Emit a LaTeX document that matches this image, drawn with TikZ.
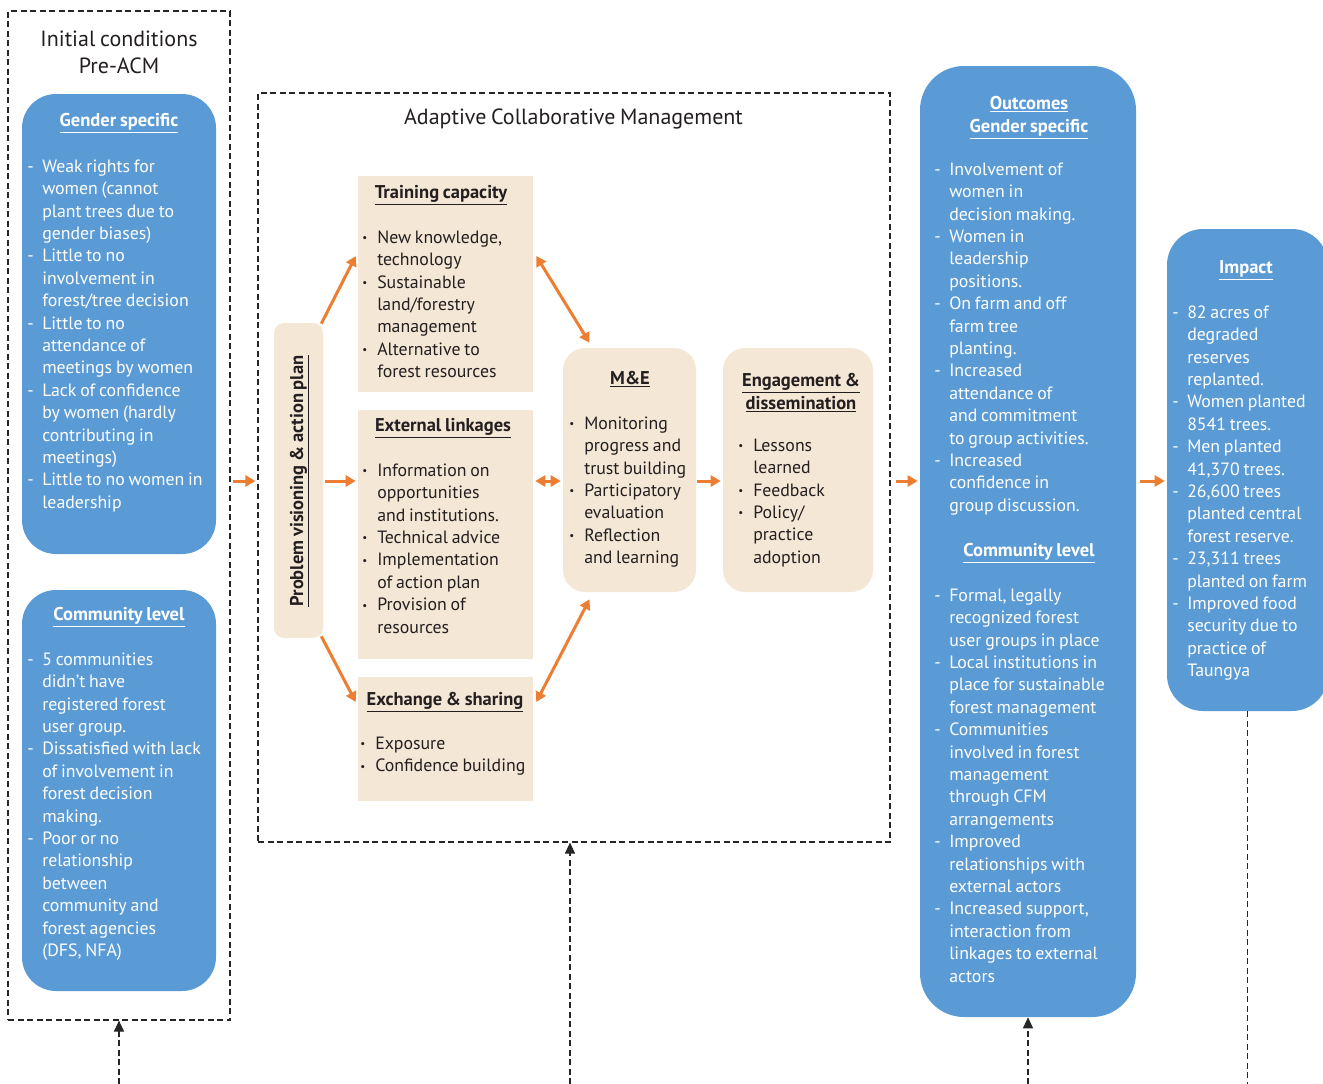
\documentclass[tikz,border=0pt]{standalone}
\usepackage{fontspec}
\setmainfont[WordSpace=0.8]{PT Sans}
\usetikzlibrary{arrows.meta,calc}

\definecolor{acmblue}{HTML}{5B9BD5}
\definecolor{acmsand}{HTML}{F5E7D6}
\definecolor{acmorange}{HTML}{ED7D31}
\definecolor{acmink}{HTML}{231F20}

\newcommand{\acmbody}{\fontsize{17.8}{22.4}\selectfont}
\newcommand{\acmhead}{\fontsize{18.5}{23}\selectfont\bfseries}
\newcommand{\acmbig}{\fontsize{22}{27}\selectfont}
\newcommand{\hd}[1]{\underline{#1}}
\newcommand{\bul}{\raisebox{1.5pt}{\fontsize{11}{11}\selectfont\textbullet}}

\tikzset{every picture/.style={line width=0.55pt}}
\tikzset{
  frame/.style={draw=black!85, line width=1.1pt, dash pattern=on 6pt off 3.5pt, inner sep=0pt},
  framehead/.style={inner sep=0pt, font=\acmbig, text=acmink, align=center},
  bluebox/.style={fill=acmblue, inner sep=0pt},
  sandbox/.style={fill=acmsand, inner sep=0pt},
  whead/.style={inner sep=0pt, font=\acmhead, text=white, align=center},
  bhead/.style={inner sep=0pt, font=\acmhead, text=acmink, align=center},
  wlist/.style={anchor=north west, inner sep=0pt, font=\acmbody, text=white},
  blist/.style={anchor=north west, inner sep=0pt, font=\acmbody, text=acmink},
  flow/.style={draw=acmorange, line width=3pt, -{Triangle[length=10pt,width=11pt]}},
  twoway/.style={draw=acmorange, line width=3pt, {Triangle[length=10pt,width=11pt]}-{Triangle[length=10pt,width=11pt]}},
  feed/.style={draw=black!85, line width=1.1pt, dash pattern=on 6pt off 3.5pt, -{Triangle[length=11pt,width=10pt]}},
  feedline/.style={draw=black!85, line width=1.1pt, dash pattern=on 6pt off 3.5pt}
}

\begin{document}
\begin{tikzpicture}[x=1pt,y=1pt,yscale=-1]
\useasboundingbox (0,0) rectangle (1323,1084);

% dashed frames
\node[frame, minimum width=222pt, minimum height=1009pt] (initframe) at (119,515.5) {};
\node[frame, minimum width=632pt, minimum height=749pt] (acmframe) at (574,467.5) {};
\node[framehead] (inithead) at (119,52.5) {Initial conditions\\Pre-ACM};
\node[framehead, anchor=base] (acmhead) at (573.5,124) {Adaptive Collaborative Management};

% initial conditions
\node[bluebox, rounded corners=34pt, minimum width=194pt, minimum height=460pt] (gsbox) at (119,324) {};
\node[whead, anchor=base] (gshead) at (119,126.8) {\hd{Gender specific}};
\node[wlist] (gslist) at (27,156.3) {\begin{tabular}{@{}p{15pt}@{}l@{}}
- & Weak rights for\\
  & women (cannot\\
  & plant trees due to\\
  & gender biases)\\
- & Little to no\\
  & involvement in\\
  & forest/tree decision\\
- & Little to no\\
  & attendance of\\
  & meetings by women\\
- & Lack of confidence\\
  & by women (hardly\\
  & contributing in\\
  & meetings)\\
- & Little to no women in\\
  & leadership
\end{tabular}};

\node[bluebox, rounded corners=34pt, minimum width=194pt, minimum height=401pt] (clbox) at (119,790.5) {};
\node[whead, anchor=base] (clhead) at (119,620.8) {\hd{Community level}};
\node[wlist] (cllist) at (27,649.3) {\begin{tabular}{@{}p{15pt}@{}l@{}}
- & 5 communities\\
  & didn’t have\\
  & registered forest\\
  & user group.\\
- & Dissatisfied with lack\\
  & of involvement in\\
  & forest decision\\
  & making.\\
- & Poor or no\\
  & relationship\\
  & between\\
  & community and\\
  & forest agencies\\
  & (DFS, NFA)
\end{tabular}};

% adaptive collaborative management
\node[sandbox, rounded corners=10pt, minimum width=49pt, minimum height=315pt] (probbox) at (298.5,480.5) {};
\node[bhead, anchor=base, rotate=90] (probhead) at (303,481) {\hd{Problem visioning \& action plan}};

\node[sandbox, minimum width=175pt, minimum height=216pt] (trainbox) at (445.5,284) {};
\node[bhead, anchor=base] (trainhead) at (441,198.8) {\hd{Training capacity}};
\node[blist] (trainlist) at (362,227.3) {\begin{tabular}{@{}p{15pt}@{}l@{}}
\bul & New knowledge,\\
     & technology\\
\bul & Sustainable\\
     & land/forestry\\
     & management\\
\bul & Alternative to\\
     & forest resources
\end{tabular}};

\node[sandbox, minimum width=175pt, minimum height=249pt] (extbox) at (445.5,534.5) {};
\node[bhead, anchor=base] (exthead) at (443,431.8) {\hd{External linkages}};
\node[blist] (extlist) at (362,460.3) {\begin{tabular}{@{}p{15pt}@{}l@{}}
\bul & Information on\\
     & opportunities\\
     & and institutions.\\
\bul & Technical advice\\
\bul & Implementation\\
     & of action plan\\
\bul & Provision of\\
     & resources
\end{tabular}};

\node[sandbox, minimum width=175pt, minimum height=124pt] (exchbox) at (445.5,739) {};
\node[bhead, anchor=base] (exchhead) at (445,705.8) {\hd{Exchange \& sharing}};
\node[blist] (exchlist) at (360,733.3) {\begin{tabular}{@{}p{15pt}@{}l@{}}
\bul & Exposure\\
\bul & Confidence building
\end{tabular}};

\node[sandbox, rounded corners=22pt, minimum width=133pt, minimum height=244pt] (mebox) at (629.5,470) {};
\node[bhead, anchor=base] (mehead) at (630,384.8) {\hd{M\&E}};
\node[blist] (melist) at (569,413.3) {\begin{tabular}{@{}p{15pt}@{}l@{}}
\bul & Monitoring\\
     & progress and\\
     & trust building\\
\bul & Participatory\\
     & evaluation\\
\bul & Reflection\\
     & and learning
\end{tabular}};

\node[sandbox, rounded corners=22pt, minimum width=150pt, minimum height=244pt] (engbox) at (798,470) {};
\node[bhead] (enghead) at (801,393) {\hd{Engagement \&}\\\hd{dissemination}};
\node[blist] (englist) at (738,435.3) {\begin{tabular}{@{}p{15pt}@{}l@{}}
\bul & Lessons\\
     & learned\\
\bul & Feedback\\
\bul & Policy/\\
     & practice\\
     & adoption
\end{tabular}};

% outcomes and impact
\node[bluebox, rounded corners=44pt, minimum width=216pt, minimum height=951pt] (outbox) at (1028,541.5) {};
\node[whead] (outhead) at (1029,117.5) {\hd{Outcomes}\\\hd{Gender specific}};
\node[wlist] (outlist) at (934,159.3) {\begin{tabular}{@{}p{15pt}@{}l@{}}
- & Involvement of\\
  & women in\\
  & decision making.\\
- & Women in\\
  & leadership\\
  & positions.\\
- & On farm and off\\
  & farm tree\\
  & planting.\\
- & Increased\\
  & attendance of\\
  & and commitment\\
  & to group activities.\\
- & Increased\\
  & confidence in\\
  & group discussion.
\end{tabular}};
\node[whead, anchor=base] (outclhead) at (1029,556.8) {\hd{Community level}};
\node[wlist] (outcllist) at (934,585.3) {\begin{tabular}{@{}p{15pt}@{}l@{}}
- & Formal, legally\\
  & recognized forest\\
  & user groups in place\\
- & Local institutions in\\
  & place for sustainable\\
  & forest management\\
- & Communities\\
  & involved in forest\\
  & management\\
  & through CFM\\
  & arrangements\\
- & Improved\\
  & relationships with\\
  & external actors\\
- & Increased support,\\
  & interaction from\\
  & linkages to external\\
  & actors
\end{tabular}};

\node[bluebox, rounded corners=36pt, minimum width=161pt, minimum height=482pt] (impbox) at (1247.5,470) {};
\node[whead, anchor=base] (imphead) at (1246,273.8) {\hd{Impact}};
\node[wlist] (implist) at (1172,302.3) {\begin{tabular}{@{}p{15pt}@{}l@{}}
- & 82 acres of\\
  & degraded\\
  & reserves\\
  & replanted.\\
- & Women planted\\
  & 8541 trees.\\
- & Men planted\\
  & 41,370 trees.\\
- & 26,600 trees\\
  & planted central\\
  & forest reserve.\\
- & 23,311 trees\\
  & planted on farm\\
- & Improved food\\
  & security due to\\
  & practice of\\
  & Taungya
\end{tabular}};

% orange connectors
\coordinate (axis) at (0,481);
\draw[flow] ($(initframe.east |- axis)+(2,0)$) -- ($(acmframe.west |- axis)+(-2,0)$);
\draw[flow] ($(probbox.north east)+(-2,1)$) -- ($(trainbox.west)+(-2,-28)$);
\draw[flow] ($(probbox.east |- axis)+(2,0)$) -- ($(extbox.west |- axis)+(-2,0)$);
\draw[flow] ($(probbox.south east)+(-2,-2)$) -- ($(exchbox.west)+(-2,-37)$);
\draw[twoway] ($(trainbox.east)+(3,-28)$) -- ($(mebox.north)+(-40,-5)$);
\draw[twoway] ($(extbox.east |- axis)+(2,0)$) -- ($(mebox.west |- axis)+(-2,0)$);
\draw[twoway] ($(exchbox.east)+(3,-37)$) -- ($(mebox.south)+(-40,7)$);
\draw[flow] ($(mebox.east |- axis)+(1,0)$) -- ($(engbox.west |- axis)+(-2,0)$);
\draw[flow] ($(acmframe.east |- axis)+(5,0)$) -- ($(outbox.west |- axis)+(-2,0)$);
\draw[flow] ($(outbox.east |- axis)+(4,0)$) -- ($(impbox.west |- axis)+(-2,0)$);

% dashed feedback lines
\coordinate (feedA) at (119,1084);
\coordinate (feedB) at (570,1084);
\coordinate (feedC) at (1028,1084);
\draw[feed] (feedA) -- (initframe.south);
\draw[feed] (feedB) -- (feedB |- acmframe.south);
\draw[feed] (feedC) -- (feedC |- outbox.south);
\draw[feedline] (impbox.south) -- (impbox.south |- feedC);
\end{tikzpicture}
\end{document}
